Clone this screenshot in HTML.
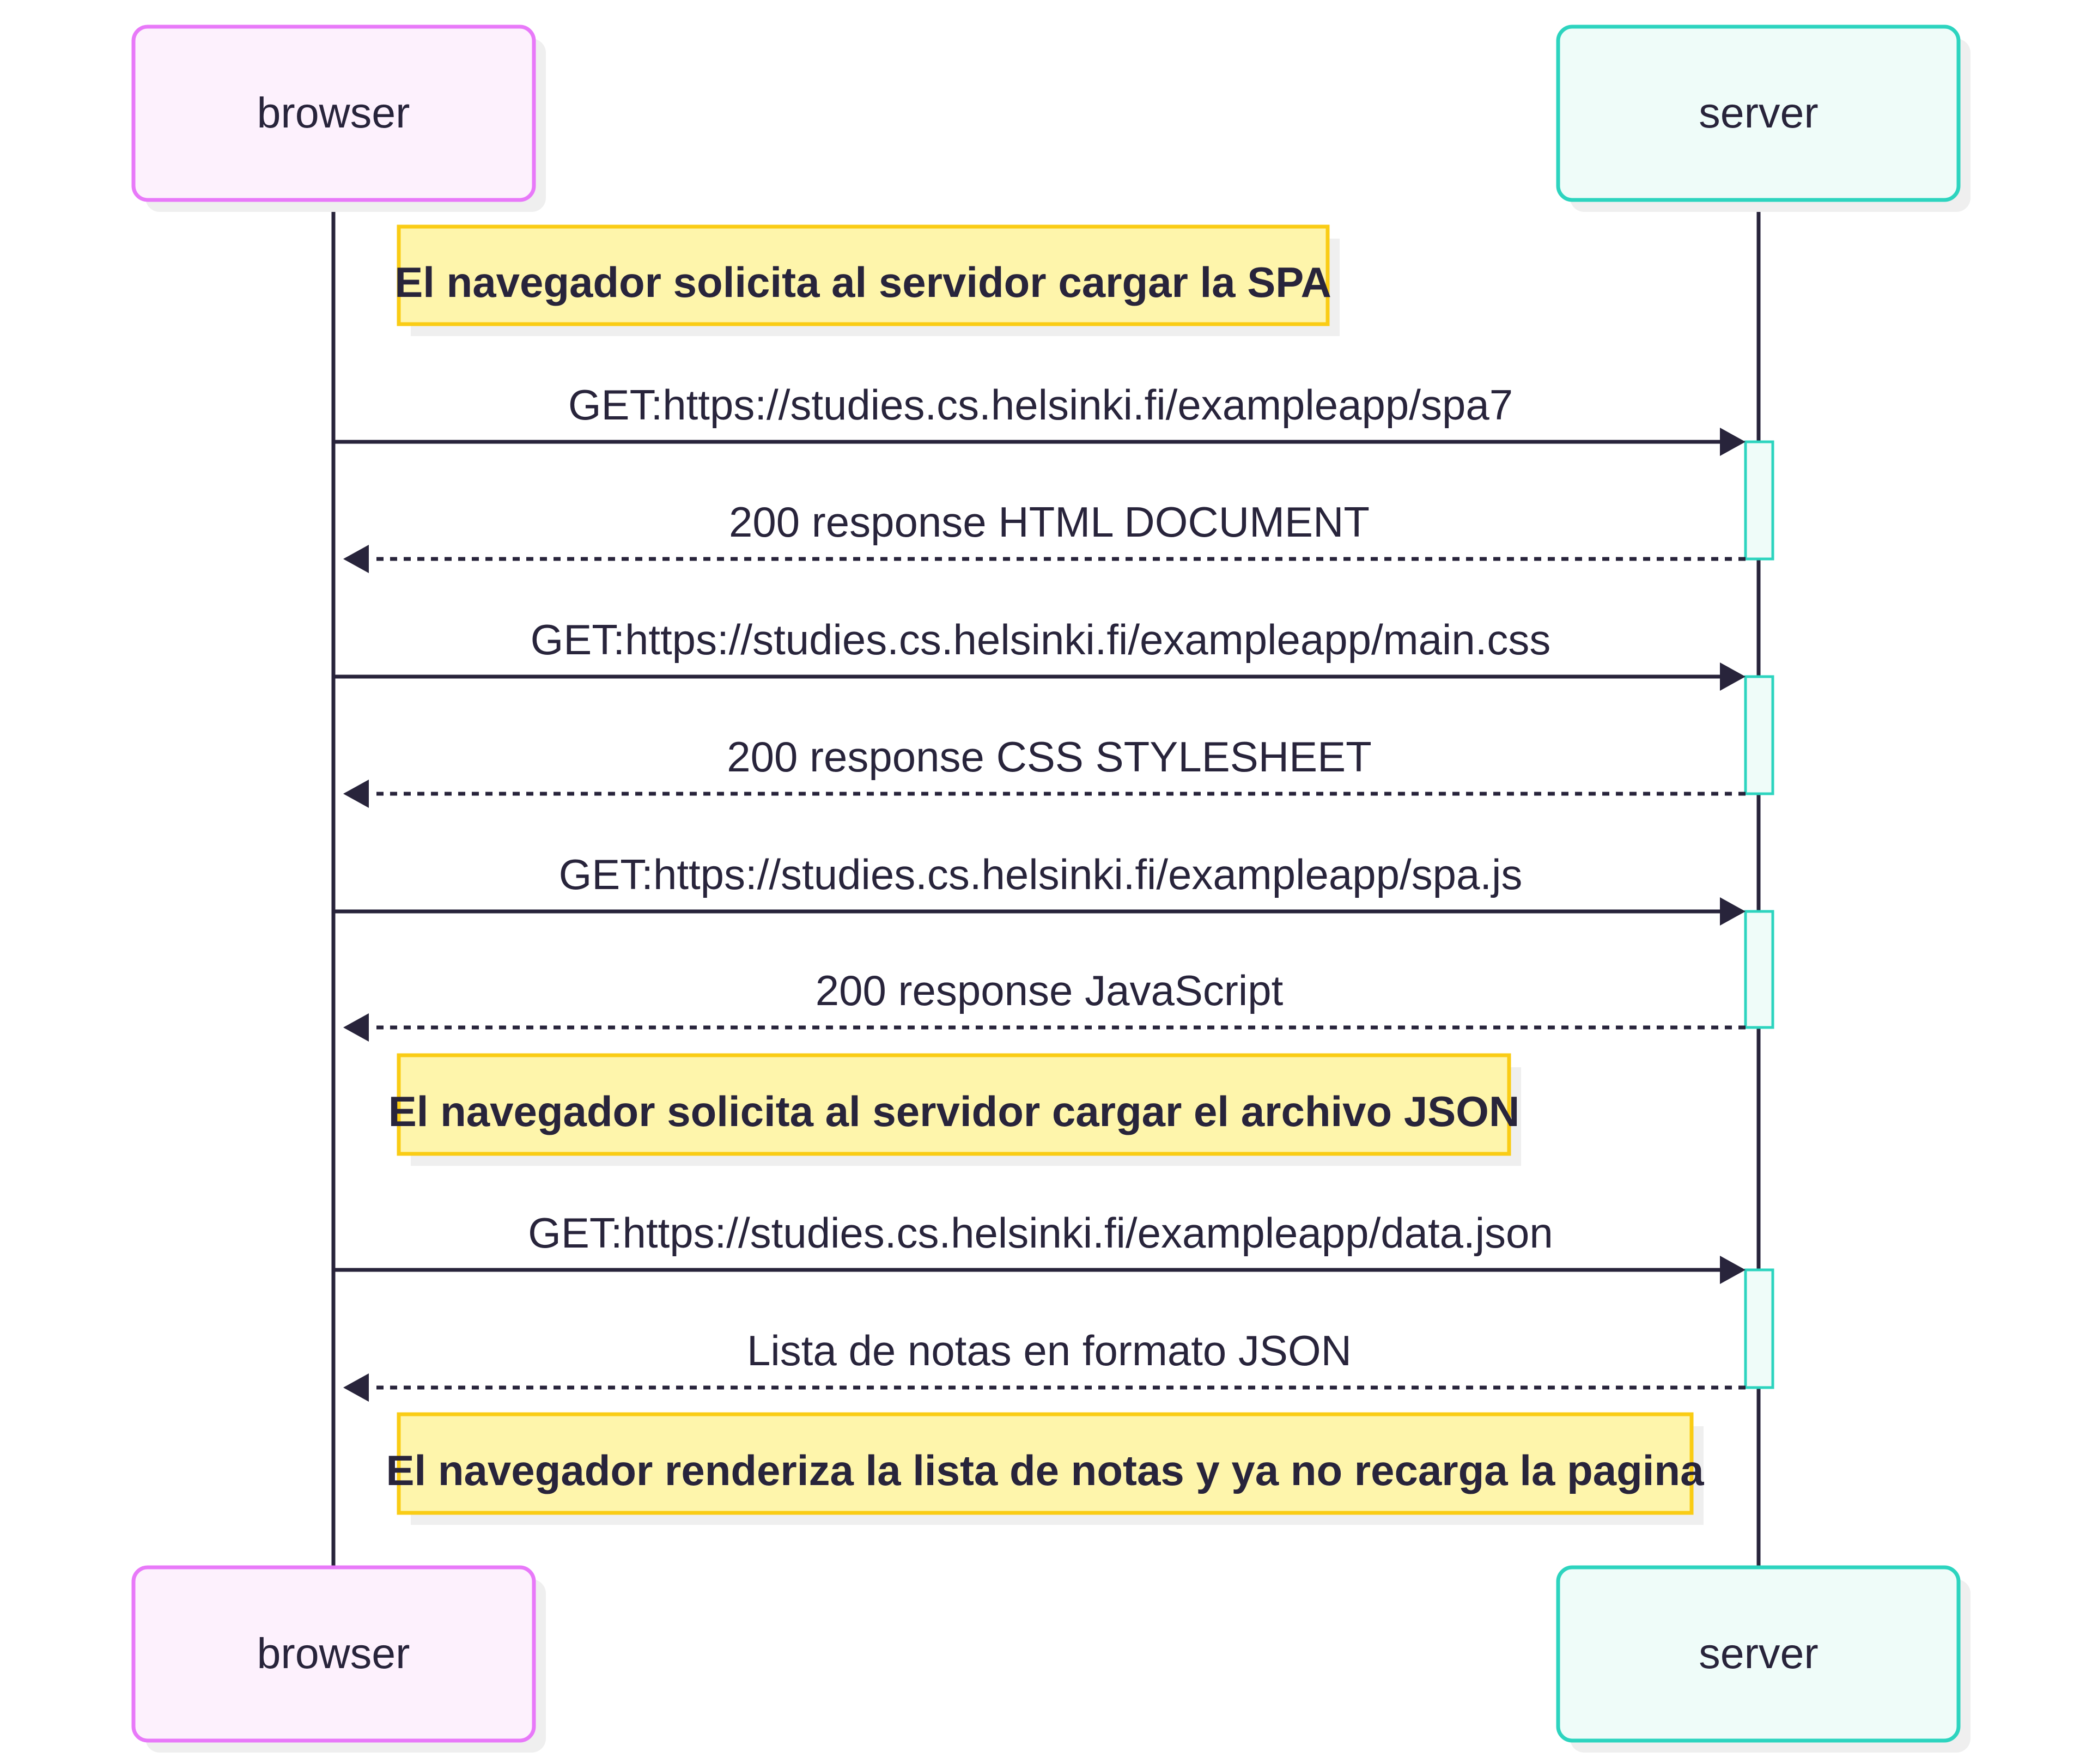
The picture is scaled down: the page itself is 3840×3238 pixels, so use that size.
<!DOCTYPE html>
<html><head><meta charset="utf-8"><style>
html,body{margin:0;padding:0;background:#fff;}
svg{display:block;}
text{font-family:"Liberation Sans",Arial,sans-serif;fill:#28243b;}
</style></head><body>
<svg width="3840" height="3238" viewBox="0 0 3840 3238" xmlns="http://www.w3.org/2000/svg">
<line x1="612" y1="367" x2="612" y2="2877" stroke="#28243b" stroke-width="7"/>
<line x1="3228" y1="367" x2="3228" y2="2877" stroke="#28243b" stroke-width="7"/>
<g fill="#efefef">
<rect x="267" y="71" width="735" height="318" rx="26"/>
<rect x="2882" y="71" width="735" height="318" rx="26"/>
<rect x="267" y="2899" width="735" height="318" rx="26"/>
<rect x="2882" y="2899" width="735" height="318" rx="26"/>
</g>
<g stroke-width="7">
<rect x="245" y="49" width="735" height="318" rx="26" fill="#fdf1fd" stroke="#e879f9"/>
<rect x="2860" y="49" width="735" height="318" rx="26" fill="#effcf9" stroke="#2dd4bf"/>
<rect x="245" y="2877" width="735" height="318" rx="26" fill="#fdf1fd" stroke="#e879f9"/>
<rect x="2860" y="2877" width="735" height="318" rx="26" fill="#effcf9" stroke="#2dd4bf"/>
</g>
<g font-size="79" text-anchor="middle">
<text x="612" y="234">browser</text>
<text x="3228" y="234">server</text>
<text x="612" y="3062">browser</text>
<text x="3228" y="3062">server</text>
</g>
<g fill="#efefef">
<rect x="754" y="438" width="1705" height="179"/>
<rect x="754" y="1959" width="2038" height="181"/>
<rect x="754" y="2618" width="2373" height="181"/>
</g>
<g fill="#fef5ab" stroke="#facc15" stroke-width="7">
<rect x="732" y="416" width="1705" height="179"/>
<rect x="732" y="1937" width="2038" height="181"/>
<rect x="732" y="2596" width="2373" height="181"/>
</g>
<g font-size="78" font-weight="bold" text-anchor="middle">
<text x="1584" y="545">El navegador solicita al servidor cargar la SPA</text>
<text x="1751" y="2067">El navegador solicita al servidor cargar el archivo JSON</text>
<text x="1918" y="2726">El navegador renderiza la lista de notas y ya no recarga la pagina</text>
</g>
<g fill="#effcf9" stroke="#2dd4bf" stroke-width="5">
<rect x="3204" y="811" width="50" height="215"/>
<rect x="3204" y="1242" width="50" height="215"/>
<rect x="3204" y="1673" width="50" height="213"/>
<rect x="3204" y="2331" width="50" height="216"/>
</g>
<g stroke="#28243b" stroke-width="7">
<line x1="615" y1="811" x2="3160" y2="811"/>
<line x1="615" y1="1242" x2="3160" y2="1242"/>
<line x1="615" y1="1673" x2="3160" y2="1673"/>
<line x1="615" y1="2331" x2="3160" y2="2331"/>
<g stroke-dasharray="13,12">
<line x1="3204" y1="1026" x2="680" y2="1026"/>
<line x1="3204" y1="1457" x2="680" y2="1457"/>
<line x1="3204" y1="1886" x2="680" y2="1886"/>
<line x1="3204" y1="2547" x2="680" y2="2547"/>
</g>
</g>
<g fill="#28243b">
<polygon points="3157,785 3204,811 3157,837"/>
<polygon points="3157,1216 3204,1242 3157,1268"/>
<polygon points="3157,1647 3204,1673 3157,1699"/>
<polygon points="3157,2305 3204,2331 3157,2357"/>
<polygon points="677,1000 630,1026 677,1052"/>
<polygon points="677,1431 630,1457 677,1483"/>
<polygon points="677,1860 630,1886 677,1912"/>
<polygon points="677,2521 630,2547 677,2573"/>
</g>
<g font-size="78" text-anchor="middle">
<text x="1910" y="770">GET:https://studies.cs.helsinki.fi/exampleapp/spa7</text>
<text x="1926" y="985">200 response HTML DOCUMENT</text>
<text x="1910" y="1201">GET:https://studies.cs.helsinki.fi/exampleapp/main.css</text>
<text x="1926" y="1416">200 response CSS STYLESHEET</text>
<text x="1910" y="1632">GET:https://studies.cs.helsinki.fi/exampleapp/spa.js</text>
<text x="1926" y="1845">200 response JavaScript</text>
<text x="1910" y="2290">GET:https://studies.cs.helsinki.fi/exampleapp/data.json</text>
<text x="1926" y="2506">Lista de notas en formato JSON</text>
</g>
</svg>
</body></html>
